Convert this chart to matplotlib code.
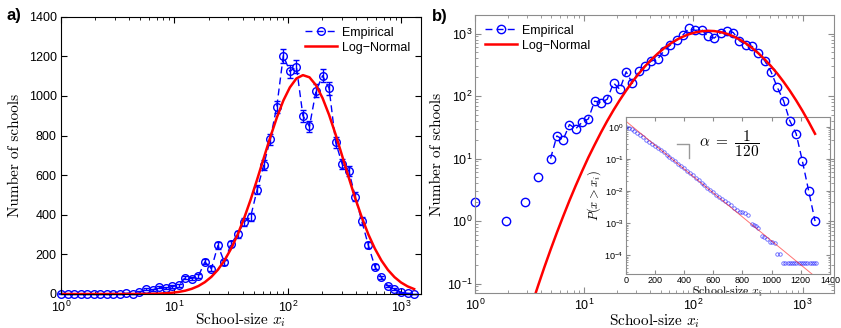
import numpy as np
import matplotlib
matplotlib.use('Agg')
import matplotlib.pyplot as plt
from matplotlib.ticker import LogLocator, NullFormatter

# log-spaced bin centres (school size)
sizes = [1.000, 1.142, 1.304, 1.489, 1.701, 1.942, 2.218, 2.533, 2.893, 3.303,
         3.773, 4.308, 4.920, 5.619, 6.417, 7.328, 8.369, 9.557, 10.91, 12.46,
         14.23, 16.25, 18.56, 21.20, 24.21, 27.64, 31.57, 36.05, 41.17, 47.02,
         53.70, 61.32, 70.03, 79.98, 91.33, 104.3, 119.1, 136.0, 155.3, 177.4,
         202.6, 231.4, 264.2, 301.7, 344.6, 393.5, 449.4, 513.2, 586.1, 669.3,
         764.4, 872.9, 996.9, 1138, 1300]
counts = [2, 0, 0, 0, 0, 1, 0, 0, 2, 0,
          5, 0, 10, 23, 20, 35, 30, 38, 43, 83,
          78, 89, 162, 128, 245, 160, 253, 301, 363, 389,
          527, 650, 781, 946, 1203, 1124, 1148, 900, 846, 1026,
          1102, 1038, 766, 656, 623, 491, 368, 246, 138, 84,
          40, 25, 9, 3, 1]
# log-normal fit read at the same sizes
lognorm = [2.5e-5, 6.3e-5, 1.6e-4, 3.8e-4, 9.0e-4, 2.1e-3, 4.7e-3, 0.0102, 0.0217, 0.0452,
           0.0915, 0.181, 0.348, 0.653, 1.19, 2.13, 3.70, 6.27, 10.4, 16.6,
           26.1, 40.0, 59.6, 86.6, 122.5, 169.3, 227.9, 298.8, 382.1, 476.1,
           578.5, 685.3, 791.1, 890.0, 976.2, 1043, 1088, 1105, 1094, 1054,
           989, 904, 805, 697, 588, 483, 387, 301, 229, 169,
           121.5, 85.1, 58.0, 38.5, 24.9]

# inset: complementary cumulative distribution
ccdf_x = [0, 20, 40, 60, 80, 100, 120, 140, 160, 180, 200, 220, 240, 260, 280,
          300, 320, 340, 360, 380, 400, 420, 440, 460, 480, 500, 520, 540, 560,
          580, 600, 620, 640, 660, 680, 700, 720, 740, 760, 780, 800, 820, 840,
          865, 880, 895, 910, 935, 950, 965, 990, 1005, 1020, 1040, 1055,
          1080, 1095, 1110, 1125, 1140, 1155, 1170, 1185, 1200, 1215, 1230,
          1245, 1260, 1275, 1290, 1305]
ccdf_p = [1.00, 0.933, 0.832, 0.741, 0.646, 0.550, 0.468, 0.398, 0.339, 0.288,
          0.251, 0.219, 0.186, 0.158, 0.135, 0.115, 0.0977, 0.0832, 0.0708,
          0.0603, 0.0513, 0.0427, 0.0363, 0.0309, 0.0257, 0.0214, 0.0178,
          0.0148, 0.0126, 0.0107, 0.00912, 0.00776, 0.00661, 0.00562, 0.00479,
          0.00417, 0.00355, 0.00302, 0.00251, 0.00229, 0.00214, 0.00200, 0.00174,
          9.55e-4, 8.71e-4, 7.94e-4, 7.24e-4, 3.98e-4, 3.63e-4, 3.31e-4,
          2.63e-4, 2.51e-4, 2.40e-4, 1.12e-4, 1.12e-4,
          5.8e-5, 5.8e-5, 5.8e-5, 5.8e-5, 5.8e-5, 5.8e-5, 5.8e-5, 5.8e-5,
          5.8e-5, 5.8e-5, 5.8e-5, 5.8e-5, 5.8e-5, 5.8e-5, 5.8e-5, 5.8e-5]
fit_x = [0, 1400]
fit_p = [1.5, 9.0e-6]

counts_arr = np.array(counts, dtype=float)
counts_log = np.where(counts_arr > 0, counts_arr, np.nan)

plt.rcParams['font.family'] = ['Liberation Sans', 'DejaVu Sans']
plt.rcParams['xtick.direction'] = 'in'
plt.rcParams['ytick.direction'] = 'in'
plt.rcParams['xtick.top'] = True
plt.rcParams['ytick.right'] = True

fig = plt.figure(figsize=(8.41, 3.28), dpi=100, facecolor='white')
ax1 = fig.add_axes([0.0725, 0.1037, 0.4275, 0.8454])
ax2 = fig.add_axes([0.5648, 0.1058, 0.4272, 0.8494], zorder=2)
ax2.set_facecolor('none')
ax3 = fig.add_axes([0.744, 0.1646, 0.2429, 0.4777], zorder=1)

dash = (0, (5, 3))
label_kw = dict(family='cmr10', math_fontfamily='cm', fontsize=11)

# ---- a) linear counts ----
ax1.errorbar(sizes, counts, yerr=np.sqrt(counts_arr), fmt='none', ecolor='b',
             elinewidth=1, capsize=2.5, capthick=1, clip_on=False)
ax1.plot(sizes, counts, marker='o', ls=dash, color='b', mfc='none', ms=5.5,
         mew=1, lw=1, label='Empirical', clip_on=False)
ax1.plot(sizes, lognorm, color='r', lw=1.8, label='Log\u2212Normal')
ax1.set_xscale('log')
ax1.set_xlim(1, 1480)
ax1.set_ylim(0, 1400)
ax1.set_yticks(range(0, 1401, 200))
ax1.set_xlabel('School-size $x_i$', labelpad=-2.5, **label_kw)
ax1.set_ylabel('Number of schools', labelpad=5, **label_kw)
ax1.tick_params(which='both', labelsize=9)
ax1.tick_params(axis='y', pad=3)
ax1.tick_params(axis='x', pad=4)
ax1.tick_params(which='major', length=4)
ax1.tick_params(which='minor', length=2)
ax1.legend(loc='upper right', frameon=False, fontsize=9, handlelength=2.6,
           handletextpad=0.4, labelspacing=0.25, borderaxespad=0.4)

# ---- b) log counts ----
gray = '0.55'
ax2.plot(sizes, counts_log, marker='o', ls=dash, color='b', mfc='none', ms=6,
         mew=1, lw=1, label='Empirical', clip_on=False)
ax2.plot(sizes, lognorm, color='r', lw=1.8, label='Log\u2212Normal')
ax2.set_xscale('log')
ax2.set_yscale('log')
ax2.set_xlim(1, 1950)
ax2.set_ylim(0.07, 2000)
ax2.yaxis.set_major_locator(LogLocator(base=10, numticks=10))
ax2.yaxis.set_minor_locator(LogLocator(base=10, subs=np.arange(2, 10), numticks=20))
ax2.yaxis.set_minor_formatter(NullFormatter())
ax2.set_xlabel('School-size $x_i$', labelpad=-1, **label_kw)
ax2.set_ylabel('Number of schools', labelpad=2, **label_kw)
ax2.tick_params(which='both', labelsize=9, color=gray)
ax2.tick_params(axis='y', pad=2)
ax2.tick_params(axis='x', pad=3.5)
ax2.tick_params(which='major', length=4)
ax2.tick_params(which='minor', length=2)
for s in ax2.spines.values():
    s.set_color(gray)
ax2.legend(loc='upper left', frameon=False, fontsize=9, handlelength=2.6,
           handletextpad=0.4, labelspacing=0.25, borderaxespad=0.4)

# ---- inset ----
ax3.plot(ccdf_x, ccdf_p, 'o', color='b', mfc='none', ms=2.5, mew=0.6, alpha=0.6)
ax3.plot(fit_x, fit_p, color='r', lw=0.7, alpha=0.55)
ax3.set_yscale('log')
ax3.set_xlim(0, 1400)
ax3.set_ylim(2.6e-5, 1.96)
ax3.set_xticks(range(0, 1401, 200))
ax3.yaxis.set_major_locator(LogLocator(base=10, numticks=10))
ax3.yaxis.set_minor_locator(LogLocator(base=10, subs=np.arange(2, 10), numticks=20))
ax3.yaxis.set_minor_formatter(NullFormatter())
ax3.tick_params(which='both', labelsize=6.5, pad=1.5, color=gray)
ax3.tick_params(which='major', length=3)
ax3.tick_params(which='minor', length=1.5)
for s in ax3.spines.values():
    s.set_color(gray)
ax3.set_xlabel('School-size $x_i$', labelpad=0, family='cmr10',
               math_fontfamily='cm', fontsize=8.5)
ax3.set_ylabel('$P(x > x_i)$', labelpad=1, math_fontfamily='cm', fontsize=9)
ax3.plot([0.25, 0.311, 0.311], [0.83, 0.83, 0.74], color='0.6', lw=1,
         transform=ax3.transAxes)
ax3.text(0.36, 0.83, r'$\alpha\ =\ \dfrac{1}{120}$', transform=ax3.transAxes,
         ha='left', va='center', fontsize=11, math_fontfamily='cm')

fig.text(0.008, 0.975, 'a)', fontsize=12, fontweight='bold', va='top', ha='left')
fig.text(0.514, 0.972, 'b)', fontsize=12, fontweight='bold', va='top', ha='left')

fig.savefig('out.png', dpi=100, facecolor='white')
